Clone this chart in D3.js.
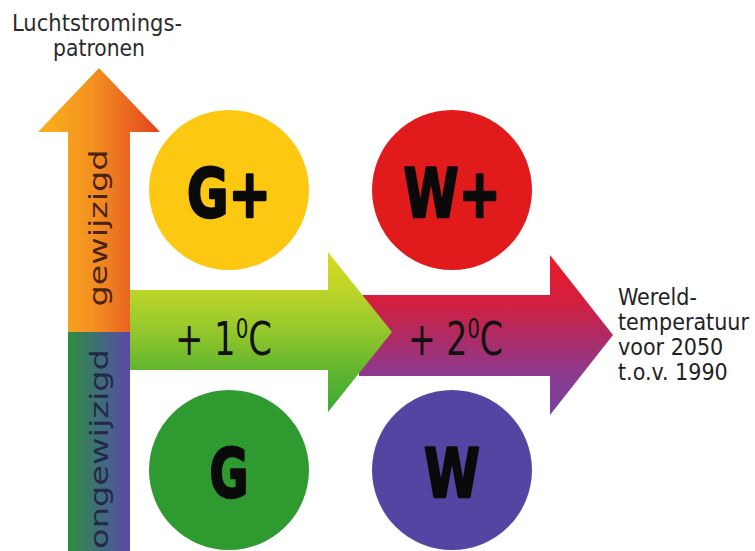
<!DOCTYPE html>
<html><head><meta charset="utf-8">
<script src="https://cdn.jsdelivr.net/npm/d3@7"></script>
<style>html,body{margin:0;padding:0;background:#fff;}svg{display:block;}</style>
</head><body>
<svg id="c" width="755" height="551"></svg>
<script>
// ---- data ----
const circulation = ["gewijzigd", "ongewijzigd"];          // vertical axis categories
const warming = [1, 2];                                    // global temperature rise (°C)
const warmingLabels = ["+ 1", "+ 2"];
const scenarioNames = ["G+", "W+", "G", "W"];
const scenarioTemp = [1, 2, 1, 2];
const scenarioCirc = ["gewijzigd", "gewijzigd", "ongewijzigd", "ongewijzigd"];
const yAxisTitle = ["Luchtstromings-", "patronen"];
const xAxisTitle = ["Wereld-", "temperatuur", "voor 2050", "t.o.v. 1990"];

// ---- styles ----
const scenarioColors = {"G+": "#fdc812", "W+": "#e11a1c", "G": "#2f9a30", "W": "#5545a3"};
const svg = d3.select("#c");
const x = d3.scalePoint().domain(warming).range([229, 452]);
const y = d3.scalePoint().domain(circulation).range([190, 470]);
const R = 80;
const midY = (y("gewijzigd") + y("ongewijzigd")) / 2 + 2;

const defs = svg.append("defs");
function grad(id, x1, y1, x2, y2, stops) {
  const g = defs.append("linearGradient").attr("id", id)
    .attr("gradientUnits", "userSpaceOnUse")
    .attr("x1", x1).attr("y1", y1).attr("x2", x2).attr("y2", y2);
  stops.forEach(s => g.append("stop").attr("offset", s[0]).attr("stop-color", s[1]));
}
grad("gUp", 38, 0, 160, 0, [[0, "#f9b21a"], [0.45, "#f39021"], [1, "#e2431f"]]);
grad("gDown", 68, 0, 130, 0, [[0, "#2f8c40"], [0.5, "#3f6e78"], [1, "#5a48a6"]]);
grad("gGreen", 0, 252, 0, 412, [[0, "#d9da1c"], [0.25, "#bcd42a"], [0.5, "#93c72c"], [0.75, "#5fb52f"], [1, "#3ca833"]]);
grad("gRed", 0, 255, 0, 415, [[0, "#ea1a2a"], [0.3, "#d21f3f"], [0.5, "#b02a62"], [0.75, "#8c3a8e"], [1, "#7642a2"]]);

// vertical arrow (circulation axis)
const shaftL = 68, shaftR = 130, headBase = 132, tipY = 68;
const cx0 = (shaftL + shaftR) / 2;
svg.append("path")
  .attr("d", `M${shaftL},${midY} L${shaftL},${headBase} L${cx0 - 61},${headBase} L${cx0},${tipY} L${cx0 + 61},${headBase} L${shaftR},${headBase} L${shaftR},${midY} Z`)
  .attr("fill", "url(#gUp)");
svg.append("rect").attr("x", shaftL).attr("y", midY).attr("width", shaftR - shaftL).attr("height", 551 - midY)
  .attr("fill", "url(#gDown)");

// horizontal arrows (temperature axis)
function hArrow(x0, xh, xt, bt, bb, ht, hb, fill) {
  const cy = (ht + hb) / 2;
  svg.append("path")
    .attr("d", `M${x0},${bt} L${xh},${bt} L${xh},${ht} L${xt},${cy} L${xh},${hb} L${xh},${bb} L${x0},${bb} Z`)
    .attr("fill", fill);
}
hArrow(359, 550, 613, 295, 376, 255, 415, "url(#gRed)");
hArrow(130, 328, 392, 290, 370, 252, 412, "url(#gGreen)");

// fit helper: scale text horizontally to a target width
function fitX(sel, tx, ty, w, rot) {
  const bw = sel.node().getBBox().width;
  const s = w / bw;
  sel.attr("transform", `translate(${tx},${ty})${rot ? " rotate(" + rot + ")" : ""} scale(${s},1)`);
}

// warming labels
const wTargets = [97, 95];
const wX = [175, 408];
warmingLabels.forEach((lab, i) => {
  const t = svg.append("text").attr("x", 0).attr("y", 0)
    .attr("font-family", "'DejaVu Sans Condensed','DejaVu Sans',sans-serif")
    .attr("font-size", 46).attr("fill", "#111");
  t.append("tspan").text(lab);
  t.append("tspan").attr("font-size", 27).attr("dy", -17).text("0");
  t.append("tspan").attr("dy", 17).text("C");
  fitX(t, wX[i], 355, wTargets[i]);
});

// scenario circles
const letterW = {"G+": 84, "W+": 97, "G": 39, "W": 56};
scenarioNames.forEach((n, i) => {
  const cx = x(scenarioTemp[i]), cy = y(scenarioCirc[i]);
  svg.append("circle").attr("cx", cx).attr("cy", cy).attr("r", R).attr("fill", scenarioColors[n]);
  const t = svg.append("text").attr("x", 0).attr("y", 0)
    .attr("text-anchor", "middle")
    .attr("font-family", "'DejaVu Sans',sans-serif").attr("font-weight", "bold")
    .attr("font-size", 68).attr("fill", "#0a0a0a")
    .attr("stroke", "#0a0a0a").attr("stroke-width", 2.6).attr("stroke-linejoin", "round")
    .text(n);
  fitX(t, cx, cy + 27, letterW[n]);
});

// circulation labels on the shaft
const circCenter = [228, 449];
const circLen = [157, 200];
const circColor = ["#4a2313", "#24284a"];
circulation.forEach((c, i) => {
  const t = svg.append("text").attr("x", 0).attr("y", 0)
    .attr("text-anchor", "middle").attr("dominant-baseline", "central")
    .attr("font-family", "'DejaVu Sans',sans-serif").attr("font-size", 25)
    .attr("fill", circColor[i]).text(c);
  fitX(t, cx0, circCenter[i], circLen[i], -90);
});

// axis titles
const yTitleX = [97, 99], yTitleW = [170, 92];
yAxisTitle.forEach((s, i) => {
  const t = svg.append("text").attr("x", 0).attr("y", 0)
    .attr("text-anchor", "middle")
    .attr("font-family", "'DejaVu Sans Condensed','DejaVu Sans',sans-serif")
    .attr("font-size", 23).attr("fill", "#2b2b2b").text(s);
  fitX(t, yTitleX[i], 31 + i * 25, yTitleW[i]);
});
xAxisTitle.forEach((s, i) => {
  svg.append("text").attr("x", 618).attr("y", 305 + i * 25)
    .attr("font-family", "'DejaVu Sans Condensed','DejaVu Sans',sans-serif")
    .attr("font-size", 23).attr("fill", "#222").text(s);
});
</script>
</body></html>
